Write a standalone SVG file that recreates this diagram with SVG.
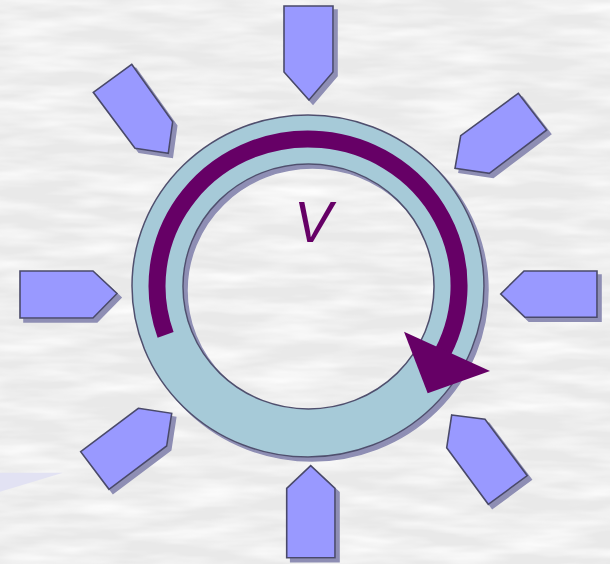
<svg xmlns="http://www.w3.org/2000/svg" width="610" height="564" viewBox="0 0 610 564">
  <style>
    .pent { fill: #9999FF; stroke: #4A4A6A; stroke-width: 1.6; stroke-linejoin: miter; }
    .ring { fill: #A6CAD8; stroke: #50506E; stroke-width: 1.5; fill-rule: evenodd; }
    .cycle { fill: none; stroke: #660066; stroke-width: 17; stroke-linecap: butt; }
    .head { fill: #660066; }
    .label { font-family: "Liberation Sans", Arial, sans-serif; font-style: italic; font-size: 57px; fill: #660066; }
    .wedge { fill: #E2E2F3; }
  </style>
  <defs>
    <filter id="shadow" x="-20%" y="-20%" width="140%" height="140%">
      <feFlood flood-color="#8E8EB4" result="c"/>
      <feComposite in="c" in2="SourceAlpha" operator="in" result="s"/>
      <feOffset in="s" dx="4" dy="4" result="so"/>
      <feMerge><feMergeNode in="so"/><feMergeNode in="SourceGraphic"/></feMerge>
    </filter>
    <filter id="paper" x="0" y="0" width="100%" height="100%">
      <feTurbulence type="fractalNoise" baseFrequency="0.012 0.07" numOctaves="3" seed="7"/>
      <feColorMatrix type="matrix" values="0 0 0 0 1  0 0 0 0 1  0 0 0 0 1  1.6 0 0 0 -0.55"/>
    </filter>
  </defs>

  <g id="background">
    <rect x="0" y="0" width="610" height="564" fill="#E9E9E9"/>
    <rect x="0" y="0" width="610" height="564" filter="url(#paper)"/>
  </g>

  <g id="faint-wedge">
    <polygon class="wedge" points="0,472.7 63,472.7 0,491.7"/>
  </g>

  <g id="ring" filter="url(#shadow)">
    <path class="ring" d="M132,286 A176,171 0 1 0 484,286 A176,171 0 1 0 132,286 Z M183,286.5 A125.5,122.5 0 1 0 434,286.5 A125.5,122.5 0 1 0 183,286.5 Z"/>
  </g>

  <g id="connectors">
    <path class="cycle" d="M165.6,334.8 A151,147 0 1 1 438.8,359.5"/>
    <polygon class="head" points="404,331.7 490,371 427.7,393.3"/>
  </g>

  <g id="label-v">
    <text class="label" x="313" y="242" text-anchor="middle">V</text>
  </g>

  <g id="arrow-top" filter="url(#shadow)">
    <polygon class="pent" points="284,6 333,6 333,72 309,100 284,72"/>
  </g>
  <g id="arrow-top-right" filter="url(#shadow)">
    <polygon class="pent" points="518.3,93.3 546.7,130 489.3,173.3 455,168.3 460.7,135.7"/>
  </g>
  <g id="arrow-right" filter="url(#shadow)">
    <polygon class="pent" points="524,271 597,271 597,317.3 525,317.3 500.7,294"/>
  </g>
  <g id="arrow-bottom-right" filter="url(#shadow)">
    <polygon class="pent" points="451.7,415 485,419.3 527.3,475.7 488.3,504.3 446.7,447.7"/>
  </g>
  <g id="arrow-bottom" filter="url(#shadow)">
    <polygon class="pent" points="310.7,465.7 335,488.3 335,557.7 286.7,557.7 286.7,488.3"/>
  </g>
  <g id="arrow-bottom-left" filter="url(#shadow)">
    <polygon class="pent" points="138.3,408.3 171.7,413.3 166.7,446 109,489.3 80.7,451.7"/>
  </g>
  <g id="arrow-left" filter="url(#shadow)">
    <polygon class="pent" points="20,271 93,271 117,293.5 93,318 20,318"/>
  </g>
  <g id="arrow-top-left" filter="url(#shadow)">
    <polygon class="pent" points="131.7,64.3 172.7,121.7 168.3,153.3 135,148.3 93.3,92.3"/>
  </g>
</svg>
